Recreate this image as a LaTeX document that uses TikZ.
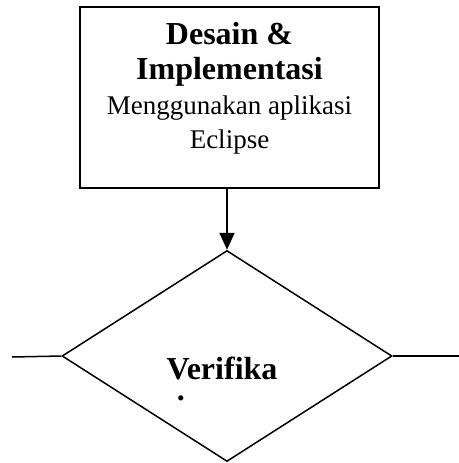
\documentclass[tikz,border=0pt]{standalone}
\usepackage{fontspec}
\setmainfont{Liberation Serif}
\usetikzlibrary{arrows.meta, positioning, shapes.geometric, calc}

\begin{document}
\begin{tikzpicture}[
  x=0.5pt, y=0.5pt,
  font=\fontsize{13.5}{17.3}\selectfont,
  box/.style={
    draw, line width=1pt, minimum width=149.5pt, minimum height=90.5pt,
    inner sep=0pt
  },
  dec/.style={
    diamond, draw, line width=0.75pt, aspect=1.56, inner sep=0pt,
    minimum width=165pt, minimum height=105.5pt
  },
  txt/.style ={align=center, inner sep=0pt},
  head/.style={font=\fontsize{16}{18}\selectfont\bfseries, inner sep=0pt,
    text depth=0pt},
  flow/.style={-{Triangle[length=8.5pt, width=7.5pt]}, line width=1pt},
  side/.style={line width=0.75pt}
]
\useasboundingbox (0,0) rectangle (459,-463);

\node[box] (design) at (229.5,-97.5) {};
\node[txt] (title) at (229.5,-88.5)
  {{\fontsize{16}{18}\selectfont\bfseries Desain \&}\\
   {\fontsize{16}{18}\selectfont\bfseries Implementasi}\\
   Menggunakan aplikasi\\ Eclipse};

\node[dec] (verify) at (227,-356) {};
\node[head, anchor=base] (vlabel) at (222,-379) {Verifika};
\node[head, anchor=base, text height=3pt] (vdot) at (181,-400) {.};

\coordinate (lend) at (12,-357);
\coordinate (rend) at (459,-356);

\draw[flow] (design.south -| verify.north) -- (verify.north);
\draw[side] (lend) -- (verify.west);
\draw[side] (verify.east) -- (rend);

\end{tikzpicture}
\end{document}
